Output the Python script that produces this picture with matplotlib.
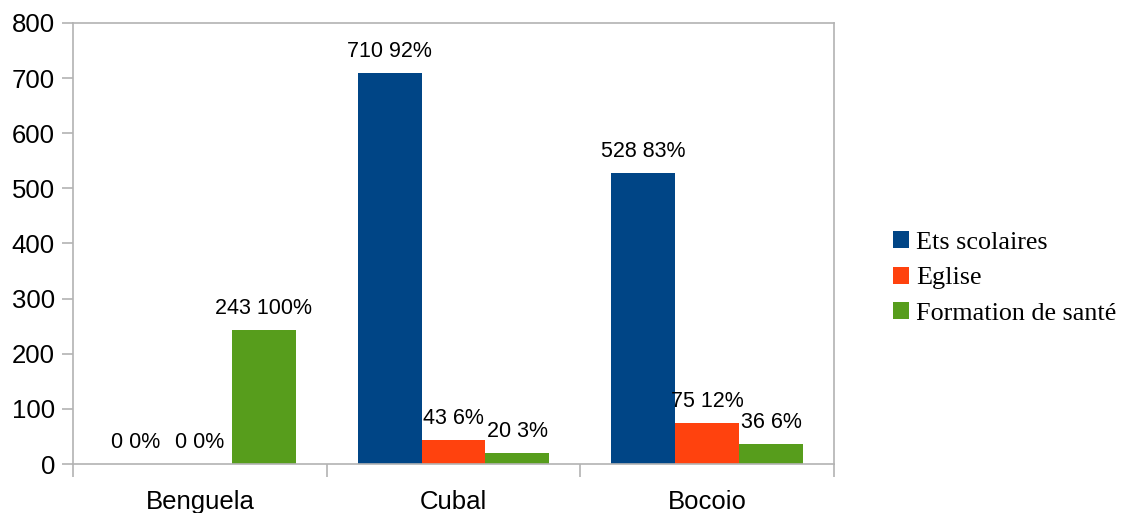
import matplotlib
matplotlib.use("Agg")
import matplotlib.pyplot as plt
import numpy as np

categories = ["Benguela", "Cubal", "Bocoio"]
series_names = ["Ets scolaires", "Eglise", "Formation de santé"]
ets = [0, 710, 528]
eglise = [0, 43, 75]
sante = [243, 20, 36]
pct_ets = ["0%", "92%", "83%"]
pct_eglise = ["0%", "6%", "12%"]
pct_sante = ["100%", "3%", "6%"]
colors = ["#004586", "#FF420E", "#579D1C"]
yticks = [0, 100, 200, 300, 400, 500, 600, 700, 800]

fig = plt.figure(figsize=(11.24, 5.13), dpi=100)
ax = fig.add_axes([73/1124, 49/513, (834-73)/1124, (464-23)/513])

x = np.arange(len(categories))
w = 0.252
series = [ets, eglise, sante]
pcts = [pct_ets, pct_eglise, pct_sante]
for i, (vals, pc, c) in enumerate(zip(series, pcts, colors)):
    pos = x + (i - 1) * w
    ax.bar(pos, vals, width=w, color=c, label=series_names[i], linewidth=0)
    for p, v, s in zip(pos, vals, pc):
        ax.annotate(f"{v} {s}", (p, v), xytext=(0, 8), textcoords="offset points",
                    ha="center", va="bottom", fontsize=15.5, family="Liberation Sans")

ax.set_xlim(-0.5, 2.5)
ax.set_ylim(0, 800)
ax.set_yticks(yticks)
ax.set_yticklabels([str(t) for t in yticks], fontsize=18.5, family="Liberation Sans")
ax.set_xticks(x)
ax.set_xticklabels(categories, fontsize=18.5, family="Liberation Sans")
ax.set_xticks([-0.5, 0.5, 1.5, 2.5], minor=True)
ax.tick_params(axis="x", which="major", length=0, pad=19)
ax.tick_params(axis="x", which="minor", length=9, color="#b3b3b3", width=1.2)
ax.tick_params(axis="y", length=8, color="#b3b3b3", width=1.2, pad=5)
for sp in ax.spines.values():
    sp.set_color("#b3b3b3")
    sp.set_linewidth(1.2)

leg = fig.legend(loc="center left", bbox_to_anchor=(893/1124, 0.458), frameon=False,
                 prop={"family": "Liberation Serif", "size": 18.8},
                 borderpad=0, borderaxespad=0,
                 handlelength=0.62, handleheight=0.62, handletextpad=0.25, labelspacing=0.5)

fig.savefig("out.png", dpi=100)
